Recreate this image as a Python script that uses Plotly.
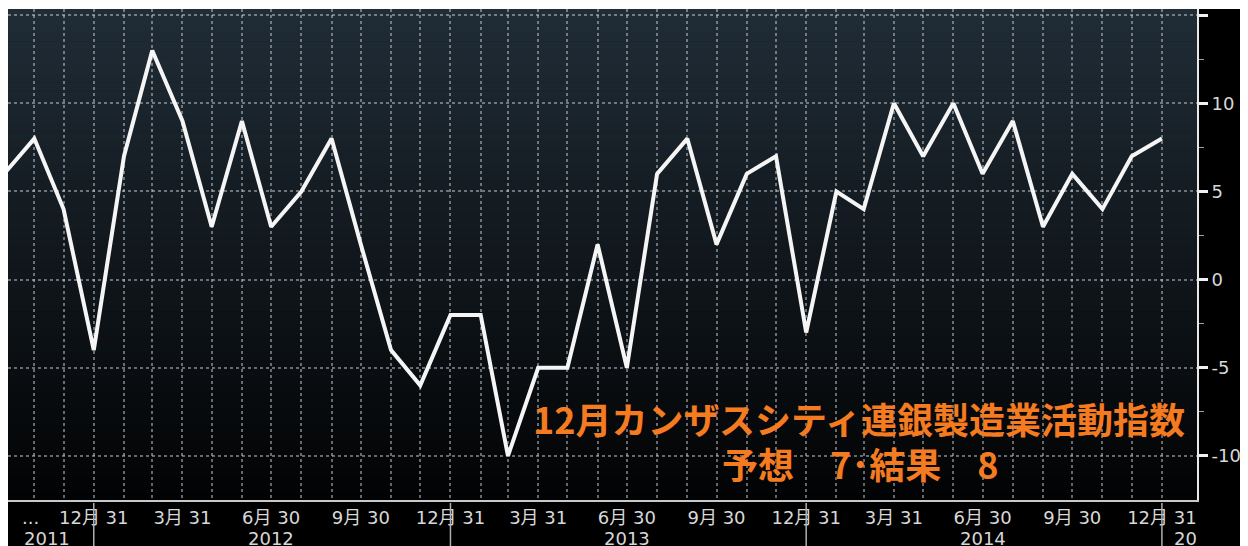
import plotly.graph_objects as go
import pandas as pd

# ---- data ----
dates = pd.date_range("2011-09-30", periods=40, freq="ME")
values = [6, 8, 4, -4, 7, 13, 9, 3, 9, 3, 5, 8, 2, -4, -6, -2, -2, -10, -5, -5,
          2, -5, 6, 8, 2, 6, 7, -3, 5, 4, 10, 7, 10, 6, 9, 3, 6, 4, 7, 8]

quarter_text = {12: "12月 31", 3: "3月 31", 6: "6月 30", 9: "9月 30"}
year_labels = ["2011", "2012", "2013", "2014", "20"]
year_label_dates = ["2011-11-13", "2012-06-30", "2013-06-30", "2014-06-30", "2015-01-24"]
year_breaks = ["2011-12-31", "2012-12-31", "2013-12-31", "2014-12-31"]
y_tickvals = [-10, -5, 0, 5, 10, 15]
y_ticktext = ["-10", "-5", "0", "5", "10", ""]
y_minor = [-7.5, -2.5, 2.5, 7.5, 12.5]

title1 = "12月カンザスシティ連銀製造業活動指数"
title2 = "予想　7･結果　8"

# page has an 8px body margin; figure is sized to fill the rest of the window
OFF = 8
W, H = 1248 - OFF, 546 - OFF
ML, MR, MT, MB = 0, 51, 1, 46
PW, PH = W - ML - MR, H - MT - MB
PLOT_TOP_PAGE = OFF + MT
PLOT_BOT_PAGE = OFF + MT + PH
PLOT_LEFT_PAGE = OFF + ML


def px_to_paper_x(px):
    return (px - PLOT_LEFT_PAGE) / PW


def py_to_paper_y(py):
    return (PLOT_BOT_PAGE - py) / PH


tickvals = list(dates)
ticktext = [quarter_text.get(d.month, "") if i > 0 else "" for i, d in enumerate(dates)]

fig = go.Figure()
fig.add_trace(go.Scatter(x=dates, y=values, mode="lines",
                         line=dict(color="#f5f5f5", width=4),
                         hoverinfo="skip", showlegend=False))

shapes = []
# gradient background in plot area
n = 60
top = (32, 44, 54)
bot = (2, 3, 4)
for k in range(n):
    t = k / (n - 1)
    c = tuple(int(round(top[j] + (bot[j] - top[j]) * t)) for j in range(3))
    shapes.append(dict(type="rect", xref="x domain", yref="y domain",
                       x0=0, x1=1, y0=1 - (k + 1) / n, y1=1 - k / n + 0.001,
                       fillcolor="rgb(%d,%d,%d)" % c, line=dict(width=0), layer="below"))
# thin white strip above plot
shapes.append(dict(type="rect", xref="paper", yref="paper",
                   x0=-0.01, x1=1 + MR / PW + 0.01, y0=1, y1=1 + (MT + 1) / PH,
                   fillcolor="white", line=dict(width=0), layer="above"))
# year separators
for d in year_breaks:
    shapes.append(dict(type="line", xref="x", yref="paper", x0=d, x1=d,
                       y0=-3 / PH, y1=-(MB + 2) / PH,
                       line=dict(color="#b0b0b0", width=1.5), layer="above"))

annotations = []
for lab, d in zip(year_labels, year_label_dates):
    annotations.append(dict(x=d, y=py_to_paper_y(538), xref="x", yref="paper", text=lab,
                            showarrow=False, xanchor="center", yanchor="middle",
                            font=dict(family="DejaVu Sans, Noto Sans CJK JP", size=18, color="#d8d8d8")))
annotations.append(dict(x="2011-10-27", y=py_to_paper_y(517), xref="x", yref="paper", text="...",
                        showarrow=False, xanchor="center", yanchor="middle",
                        font=dict(family="DejaVu Sans", size=18, color="#d8d8d8")))
annotations.append(dict(x=px_to_paper_x(859), y=py_to_paper_y(418), xref="paper", yref="paper",
                        text=title1, showarrow=False, xanchor="center", yanchor="middle",
                        font=dict(family="Noto Sans CJK JP", size=36, color="#f47b20", weight="bold")))
annotations.append(dict(x=px_to_paper_x(860), y=py_to_paper_y(463), xref="paper", yref="paper",
                        text=title2, showarrow=False, xanchor="center", yanchor="middle",
                        font=dict(family="Noto Sans CJK JP", size=36, color="#f47b20", weight="bold")))

fig.update_layout(
    width=W, height=H,
    margin=dict(l=ML, r=MR, t=MT, b=MB, pad=0),
    paper_bgcolor="black", plot_bgcolor="black",
    shapes=shapes, annotations=annotations, showlegend=False,
    xaxis=dict(type="date", range=["2011-10-04", "2015-02-05"],
               tickmode="array", tickvals=tickvals, ticktext=ticktext,
               showgrid=True, gridcolor="rgba(200,205,210,0.5)", griddash="dot", gridwidth=1.5,
               showline=True, linecolor="#c8c8c8", linewidth=2,
               ticks="", ticklen=0,
               tickfont=dict(family="DejaVu Sans, Noto Sans CJK JP", size=18, color="#d8d8d8"),
               zeroline=False, fixedrange=True),
    yaxis=dict(side="right", range=[-12.5, 15.35],
               tickmode="array", tickvals=y_tickvals, ticktext=y_ticktext,
               showgrid=True, gridcolor="rgba(200,205,210,0.5)", griddash="dot", gridwidth=1.5,
               showline=True, linecolor="#e8e8e8", linewidth=2,
               ticks="outside", ticklen=9, tickwidth=3, tickcolor="#f0f0f0",
               minor=dict(tickmode="array", tickvals=y_minor, ticks="outside",
                          ticklen=5, tickwidth=1, tickcolor="#a0a0a0", showgrid=False),
               tickfont=dict(family="DejaVu Sans", size=18, color="#d8d8d8"),
               zeroline=False, fixedrange=True),
)

fig.write_html("out.html")
